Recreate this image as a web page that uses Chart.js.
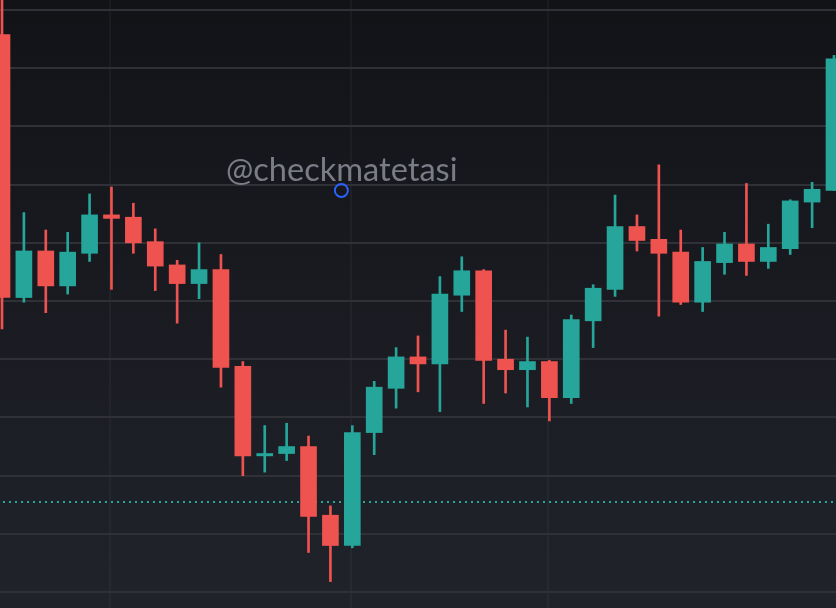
<!DOCTYPE html>
<html>
<head>
<meta charset="utf-8">
<script src="https://cdn.jsdelivr.net/npm/chart.js@4.4.0/dist/chart.umd.min.js"></script>
<style>
    html, body { margin: 0; padding: 0; background: #17181d; overflow: hidden; }
    canvas { display: block; }
</style>
</head>
<body>
<canvas id="candles" width="836" height="608"></canvas>
<script>
// daily candles
const opens  = [11279, 11053, 11093, 11063, 11091, 11124, 11122, 11101, 11081, 11065,
                11077, 10994, 10917, 10919, 10925, 10866, 10840, 10937, 10975, 11002,
                10996, 11055, 11076, 11000, 10991, 10998, 10967, 11033, 11060, 11114,
                11103, 11092, 11049, 11083, 11099, 11084, 11095, 11135, 11145];
const highs  = [11310, 11126, 11111, 11109, 11142, 11148, 11134, 11112, 11085, 11100,
                11090, 10998, 10943, 10945, 10934, 10874, 10943, 10981, 11010, 11020,
                11071, 11088, 11077, 11025, 11019, 10999, 11038, 11064, 11141, 11124,
                11167, 11111, 11096, 11109, 11151, 11116, 11137, 11152, 11261];
const lows   = [11026, 11049, 11040, 11056, 11084, 11060, 11091, 11059, 11031, 11052,
                10976, 10900, 10903, 10913, 10834, 10809, 10838, 10918, 10958, 10972,
                10955, 11041, 10962, 10971, 10959, 10947, 10962, 11010, 11054, 11093,
                11037, 11047, 11041, 11073, 11072, 11078, 11090, 11113, 11145];
const closes = [11053, 11093, 11063, 11092, 11124, 11121, 11100, 11080, 11065, 11077,
                10993, 10917, 10919, 10925, 10865, 10840, 10937, 10976, 11002, 10996,
                11056, 11076, 10999, 10991, 10998, 10967, 11034, 11061, 11114, 11102,
                11091, 11049, 11084, 11099, 11084, 11096, 11136, 11146, 11258];

const priceTicks = [10800, 10850, 10900, 10950, 11000, 11050, 11100, 11150, 11200, 11250, 11300];
const sessionBreaks = [5, 16, 25];
const refLevel = 10877;
const watermark = '@checkmatetasi';
const cursorPoint = { x: 15.5, y: 11145 };

const UP = '#26a69a';
const DOWN = '#ef5350';

const candleColors = opens.map((o, i) => closes[i] >= o ? UP : DOWN);
const bodies = opens.map((o, i) => ({ x: i, y: [o, closes[i]] }));
const wicks = lows.map((l, i) => ({ x: i, y: [l, highs[i]] }));

const backdrop = {
    id: 'backdrop',
    beforeDraw(chart) {
        const { ctx, width, height } = chart;
        const g = ctx.createLinearGradient(0, 0, 0, height);
        g.addColorStop(0, '#121317');
        g.addColorStop(1, '#21232b');
        ctx.save();
        ctx.fillStyle = g;
        ctx.fillRect(0, 0, width, height);
        ctx.restore();
    },
    beforeDatasetsDraw(chart) {
        const { ctx, chartArea, scales } = chart;
        const y = Math.round(scales.y.getPixelForValue(refLevel));
        ctx.save();
        ctx.strokeStyle = UP;
        ctx.lineWidth = 2;
        ctx.setLineDash([2, 4]);
        ctx.beginPath();
        ctx.moveTo(chartArea.left + 3, y);
        ctx.lineTo(chartArea.right, y);
        ctx.stroke();
        ctx.restore();

        // watermark, sized to span the same width as the original
        ctx.save();
        ctx.font = '32px Lato';
        const size = 32 * 232 / ctx.measureText(watermark).width;
        ctx.font = size.toFixed(1) + 'px Lato';
        ctx.fillStyle = '#7a7c86';
        ctx.textBaseline = 'alphabetic';
        ctx.fillText(watermark, 226, 181);
        ctx.restore();
    },
    afterDraw(chart) {
        const { ctx, scales } = chart;
        const cx = scales.x.getPixelForValue(cursorPoint.x);
        const cy = scales.y.getPixelForValue(cursorPoint.y);
        ctx.save();
        ctx.strokeStyle = '#2962ff';
        ctx.lineWidth = 2;
        ctx.beginPath();
        ctx.arc(cx, cy, 6.5, 0, Math.PI * 2);
        ctx.stroke();
        ctx.restore();
    }
};

new Chart(document.getElementById('candles'), {
    type: 'bar',
    data: {
        datasets: [{
            label: 'body',
            data: bodies,
            backgroundColor: candleColors,
            barThickness: 16,
            grouped: false,
            borderWidth: 0,
            minBarLength: 2
        }, {
            label: 'wick',
            data: wicks,
            backgroundColor: candleColors,
            barThickness: 2,
            grouped: false,
            borderWidth: 0
        }]
    },
    options: {
        responsive: false,
        animation: false,
        layout: { padding: 0 },
        plugins: {
            legend: { display: false },
            tooltip: { enabled: false }
        },
        scales: {
            x: {
                type: 'linear',
                offset: false,
                min: -0.0913,
                max: 38.0913,
                afterBuildTicks: s => { s.ticks = sessionBreaks.map(v => ({ value: v - 0.07 })); },
                grid: { color: 'rgba(255,255,255,0.035)', lineWidth: 2, drawTicks: false, offset: false },
                ticks: { display: false },
                border: { display: false }
            },
            y: {
                min: 10786.3,
                max: 11308.6,
                afterBuildTicks: s => { s.ticks = priceTicks.map(v => ({ value: v })); },
                grid: { color: '#303137', lineWidth: 2, drawTicks: false },
                ticks: { display: false },
                border: { display: false }
            }
        }
    },
    plugins: [backdrop]
});
</script>
</body>
</html>
